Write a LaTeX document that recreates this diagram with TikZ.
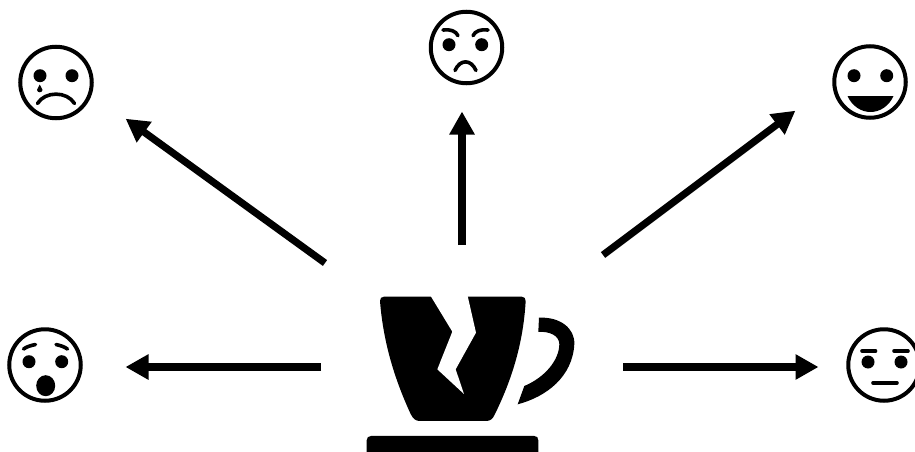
\documentclass[tikz,border=0pt]{standalone}
\usetikzlibrary{arrows.meta}
\tikzset{
  face/.style={circle,draw=black,line width=4pt,fill=white,minimum size=71.5pt,inner sep=0pt,outer sep=0pt},
  eye/.style={circle,fill=black,minimum size=13pt,inner sep=0pt,outer sep=0pt},
  feature/.style={draw=black,line width=3.6pt,line cap=round},
  link/.style={draw=black,line width=7.2pt,-{Triangle[length=23pt,width=24pt]},shorten >=-0.5pt},
  solidpart/.style={fill=black,draw=none}
}
\begin{document}
\begin{tikzpicture}[x=1pt,y=-1pt]
\clip (0,0) rectangle (915,452);
\fill[white] (0,0) rectangle (915,452);
% cup
\begin{scope}[shift={(360,280)},x=0.3333pt,y=-0.3333pt]
\path[solidpart] (72,50) -- (485,50) .. controls (493,50) and (497,55) .. (497,63)
  .. controls (490,190) and (455,300) .. (405,402)
  .. controls (398,418) and (390,423) .. (378,423)
  -- (180,423) .. controls (168,423) and (160,418) .. (152,402)
  .. controls (105,300) and (70,190) .. (60,63)
  .. controls (60,55) and (64,50) .. (72,50) -- cycle;
\path[fill=white] (212,48) -- (277,155) -- (232,268) -- (312,342) -- (287,268) -- (348,158) -- (323,48) -- cycle;
\path[solidpart] (537,113) .. controls (600,110) and (645,145) .. (643,192)
  .. controls (638,290) and (560,350) .. (473,373)
  -- (493,318) .. controls (555,292) and (598,240) .. (598,192)
  .. controls (598,168) and (570,153) .. (535,156) -- cycle;
\path[solidpart] (33,468) -- (523,468) .. controls (531,468) and (535,473) .. (535,481)
  -- (535,520) -- (20,520) -- (20,481) .. controls (20,473) and (25,468) .. (33,468) -- cycle;
\end{scope}
% faces
\node[face] (sad) at (56,82.5) {};
\node[eye] (sadL) at (40,75.7) {};
\node[eye] (sadR) at (72,75.7) {};
\path[solidpart] (39.7,84.5) .. controls (40.5,87) and (42.5,88.5) .. (42.5,90) .. controls (42.5,93) and (37,93) .. (37,90) .. controls (37,88.5) and (39,87) .. (39.7,84.5) -- cycle;
\draw[feature] (37.5,103.5) .. controls (45,91) and (67,91) .. (74.5,103.5);

\node[face] (angry) at (466.5,47.5) {};
\node[eye] (angryL) at (449,44.7) {};
\node[eye] (angryR) at (481.7,44.7) {};
\draw[feature] (443,30) .. controls (450,29) and (456,31) .. (458,35.7);
\draw[feature] (488,30) .. controls (481,29) and (475,31) .. (473,35.7);
\draw[feature] (455,70.5) .. controls (460,59) and (471,59) .. (476,70.5);

\node[face] (happy) at (870,82) {};
\node[eye] (happyL) at (854,75.7) {};
\node[eye] (happyR) at (886.7,75.7) {};
\path[solidpart] (847.5,96) -- (893.5,96) .. controls (889,106) and (880,112) .. (870.5,112) .. controls (861,112) and (852,106) .. (847.5,96) -- cycle;

\node[face] (surprised) at (45,365) {};
\node[eye] (surL) at (29,361.7) {};
\node[eye] (surR) at (61.7,361.7) {};
\draw[feature] (23.5,349) .. controls (27,346.5) and (31,345.5) .. (35.5,344.5);
\draw[feature] (56,344.5) .. controls (60,345.5) and (64,346.5) .. (67.5,349);
\path[solidpart] (45.7,385.7) ellipse (9.5pt and 10.5pt);

\node[face] (neutral) at (884,365) {};
\node[eye] (neuL) at (868,362) {};
\node[eye] (neuR) at (901,362) {};
\draw[feature] (862,351) -- (875.5,351);
\draw[feature] (894,351) -- (908,351);
\draw[feature] (873,382.7) -- (897,382.7);
% connectors
\coordinate (a1) at (325,263); \coordinate (b1) at (126,119);
\coordinate (a2) at (462,245); \coordinate (b2) at (462,112);
\coordinate (a3) at (603,255); \coordinate (b3) at (795,111);
\coordinate (a4) at (321,367); \coordinate (b4) at (126,367);
\coordinate (a5) at (623,367); \coordinate (b5) at (818,367);
\draw[link] (a1) -- (b1);
\draw[link] (a2) -- (b2);
\draw[link] (a3) -- (b3);
\draw[link] (a4) -- (b4);
\draw[link] (a5) -- (b5);
\end{tikzpicture}
\end{document}
